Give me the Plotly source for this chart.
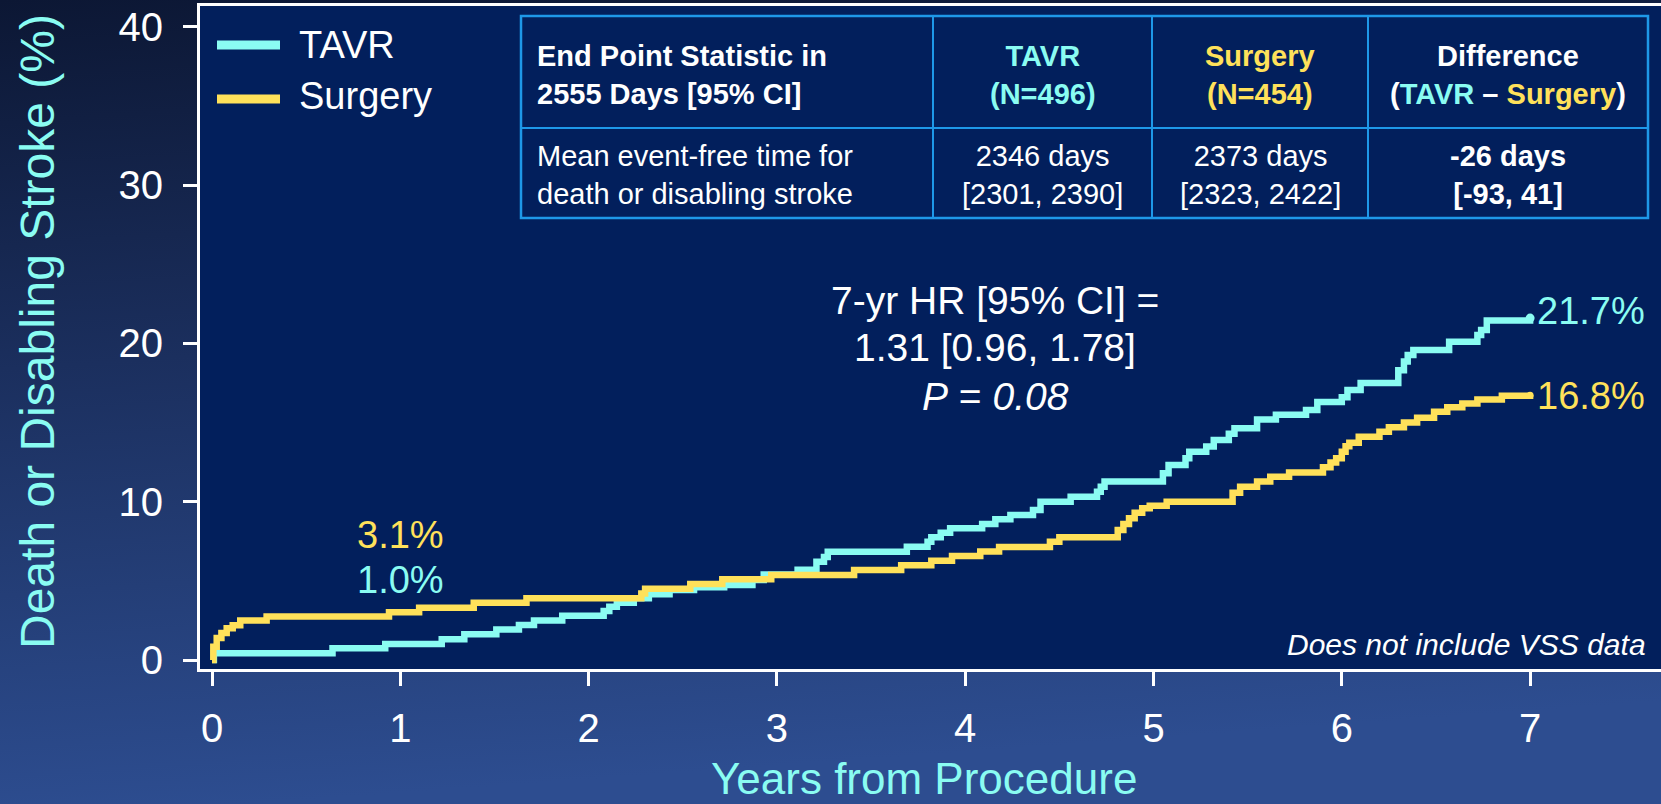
import base64

import plotly.graph_objects as go

# Kaplan-Meier style cumulative incidence (%)
tavr_years = [0, 0.01, 0.64, 0.92, 1.22, 1.34, 1.51, 1.63, 1.71, 1.86, 2.08, 2.11, 2.15,
              2.24, 2.32, 2.43, 2.56, 2.72, 2.87, 2.93, 3.11, 3.21, 3.25, 3.27, 3.69,
              3.80, 3.82, 3.87, 3.92, 4.09, 4.16, 4.24, 4.36, 4.40, 4.56, 4.70, 4.72,
              4.74, 5.05, 5.08, 5.17, 5.19, 5.28, 5.32, 5.40, 5.43, 5.55, 5.65, 5.81,
              5.87, 6.00, 6.03, 6.10, 6.30, 6.33, 6.35, 6.38, 6.57, 6.72, 6.74, 6.77,
              7.0]
tavr_pct = [0, 0.42, 0.74, 1.01, 1.31, 1.62, 1.92, 2.21, 2.50, 2.80, 3.10, 3.37, 3.62,
            3.90, 4.15, 4.42, 4.60, 4.74, 5.05, 5.40, 5.70, 6.20, 6.50, 6.84, 7.16,
            7.47, 7.75, 8.04, 8.32, 8.59, 8.89, 9.16, 9.48, 10.0, 10.32, 10.63, 10.95,
            11.27, 11.79, 12.32, 12.74, 13.16, 13.48, 13.90, 14.30, 14.64, 15.20, 15.50,
            15.80, 16.30, 16.60, 17.06, 17.50, 18.30, 18.85, 19.27, 19.58, 20.10,
            20.53, 20.85, 21.45, 21.60]

surgery_years = [0, 0.007, 0.025, 0.05, 0.078, 0.11, 0.15, 0.29, 0.94, 1.10, 1.39, 1.67,
                 2.28, 2.30, 2.54, 2.71, 2.97, 3.41, 3.66, 3.82, 3.93, 4.08, 4.18, 4.45,
                 4.50, 4.81, 4.84, 4.87, 4.90, 4.94, 4.98, 5.07, 5.42, 5.46, 5.55, 5.62,
                 5.72, 5.90, 5.94, 5.97, 6.00, 6.02, 6.04, 6.09, 6.20, 6.25, 6.33, 6.40,
                 6.49, 6.56, 6.64, 6.72, 6.85, 7.0]
surgery_pct = [0, 0.84, 1.39, 1.70, 2.00, 2.20, 2.50, 2.75, 3.02, 3.30, 3.62, 3.90,
               4.20, 4.50, 4.80, 5.10, 5.37, 5.69, 5.98, 6.27, 6.57, 6.86, 7.14, 7.47,
               7.75, 8.21, 8.59, 8.95, 9.30, 9.58, 9.75, 10.0, 10.57, 10.95, 11.27,
               11.58, 11.84, 12.17, 12.47, 12.74, 13.16, 13.50, 13.73, 14.10, 14.42,
               14.70, 15.00, 15.30, 15.69, 15.96, 16.20, 16.46, 16.70, 16.72]

x_ticks = [0, 1, 2, 3, 4, 5, 6, 7]
y_ticks = [0, 10, 20, 30, 40]

table_header = [
    "<b>End Point Statistic in<br>2555 Days [95% CI]</b>",
    "<b>TAVR<br>(N=496)</b>",
    "<b>Surgery<br>(N=454)</b>",
    "<b>Difference<br>(<span style='color:#8AFCF2'>TAVR</span> – "
    "<span style='color:#FFE15A'>Surgery</span>)</b>",
]
table_row = [
    "Mean event-free time for<br>death or disabling stroke",
    "2346 days<br>[2301, 2390]",
    "2373 days<br>[2323, 2422]",
    "<b>-26 days<br>[-93, 41]</b>",
]

CYAN = "#8AFCF2"
YELLOW = "#FFE15A"
NAVY = "#021F5C"
GRID_BLUE = "#1E98E8"
FONT = "Arial, Liberation Sans, sans-serif"

W, H = 1661, 804
L, R, T, B = 200, 0, 6, 135
PW, PH = W - L - R, H - T - B


def px(x):
    return (x - L) / PW


def py(y):
    return (H - B - y) / PH


# gradient page background as an svg image
svg = (
    f"<svg xmlns='http://www.w3.org/2000/svg' width='{W}' height='{H}' "
    f"viewBox='0 0 {W} {H}' preserveAspectRatio='none'>"
    "<defs><linearGradient id='g' x1='0' y1='0' x2='0.15' y2='1'>"
    "<stop offset='0' stop-color='#0C1734'/>"
    "<stop offset='0.45' stop-color='#1B2F5E'/>"
    "<stop offset='1' stop-color='#2D4D90'/>"
    "</linearGradient></defs>"
    f"<rect width='{W}' height='{H}' fill='url(#g)'/></svg>"
)
bg_src = "data:image/svg+xml;base64," + base64.b64encode(svg.encode()).decode()

fig = go.Figure()

fig.add_trace(go.Scatter(x=tavr_years, y=tavr_pct, mode="lines", line_shape="hv",
                         line=dict(color=CYAN, width=6.5), showlegend=False))
fig.add_trace(go.Scatter(x=surgery_years, y=surgery_pct, mode="lines", line_shape="hv",
                         line=dict(color=YELLOW, width=6.5), showlegend=False))
# rounded end points
fig.add_trace(go.Scatter(x=[tavr_years[-1]], y=[tavr_pct[-1]], mode="markers",
                         marker=dict(color=CYAN, size=9), showlegend=False))
fig.add_trace(go.Scatter(x=[surgery_years[-1]], y=[surgery_pct[-1]], mode="markers",
                         marker=dict(color=YELLOW, size=7), showlegend=False))

shapes = [
    dict(type="rect", xref="paper", yref="paper", x0=0, x1=1, y0=0, y1=1,
         fillcolor=NAVY, line_width=0, layer="below"),
    # legend swatches
    dict(type="line", xref="paper", yref="paper", x0=px(217), x1=px(280),
         y0=py(45), y1=py(45), line=dict(color=CYAN, width=9)),
    dict(type="line", xref="paper", yref="paper", x0=px(217), x1=px(280),
         y0=py(99), y1=py(99), line=dict(color=YELLOW, width=9)),
]

# table grid
tb_left, tb_right, tb_top, tb_bottom, tb_mid = 521, 1648, 16, 218, 128
col_edges = [521, 933, 1152, 1368, 1648]
shapes.append(dict(type="rect", xref="paper", yref="paper", x0=px(tb_left), x1=px(tb_right),
                   y0=py(tb_bottom), y1=py(tb_top), line=dict(color=GRID_BLUE, width=2.5)))
shapes.append(dict(type="line", xref="paper", yref="paper", x0=px(tb_left), x1=px(tb_right),
                   y0=py(tb_mid), y1=py(tb_mid), line=dict(color=GRID_BLUE, width=2)))
for cx in col_edges[1:-1]:
    shapes.append(dict(type="line", xref="paper", yref="paper", x0=px(cx), x1=px(cx),
                       y0=py(tb_bottom), y1=py(tb_top), line=dict(color=GRID_BLUE, width=2)))

annotations = []


def note(text, x, y, size, color="white", xanchor="center", align="center", angle=0):
    annotations.append(dict(text=text, xref="paper", yref="paper", x=px(x), y=py(y),
                            xanchor=xanchor, yanchor="middle", align=align,
                            textangle=angle, showarrow=False,
                            font=dict(family=FONT, size=size, color=color)))


header_colors = ["white", CYAN, YELLOW, "white"]
for i, (head, cell) in enumerate(zip(table_header, table_row)):
    if i == 0:
        note(head, 535, 75, 29, header_colors[i], xanchor="left", align="left")
        note(cell, 535, 175, 29, "white", xanchor="left", align="left")
    else:
        cx = (col_edges[i] + col_edges[i + 1]) / 2
        note(head, cx, 75, 29, header_colors[i])
        note(cell, cx, 175, 29, "white")

# legend labels
note("TAVR", 297, 45, 38, "white", xanchor="left")
note("Surgery", 297, 96, 38, "white", xanchor="left")

# hazard ratio
note("7-yr HR [95% CI] =", 995, 300, 39)
note("1.31 [0.96, 1.78]", 995, 348, 39)
note("<i>P</i> = <i>0.08</i>", 995, 396, 39)

# curve labels
note("21.7%", 1535, 311, 38, CYAN, xanchor="left")
note("16.8%", 1535, 396, 38, YELLOW, xanchor="left")
note("3.1%", 400, 535, 38, YELLOW)
note("1.0%", 400, 580, 38, CYAN)
note("<i>Does not include VSS data</i>", 1648, 644, 30, "white", xanchor="right")

# axis titles
note("Death or Disabling Stroke (%)", 37, 332, 48, CYAN, angle=-90)
note("Years from Procedure", 924, 778, 44, CYAN)

fig.update_layout(
    width=W,
    height=H,
    margin=dict(l=L, r=R, t=T, b=B, pad=0),
    paper_bgcolor="#1B2F5E",
    plot_bgcolor=NAVY,
    font=dict(family=FONT, color="white"),
    shapes=shapes,
    annotations=annotations,
    images=[dict(source=bg_src, xref="paper", yref="paper", x=-L / PW, y=1 + T / PH,
                 sizex=W / PW, sizey=H / PH, xanchor="left", yanchor="top",
                 sizing="stretch", layer="below")],
    showlegend=False,
)
fig.update_xaxes(
    range=[-12 / 188.3, (W - 212) / 188.3],
    tickvals=x_ticks,
    ticks="outside", ticklen=14, tickwidth=3, tickcolor="white",
    showline=True, linewidth=3, linecolor="white", mirror=True,
    showgrid=False, zeroline=False,
    tickfont=dict(family=FONT, size=40, color="white"),
    ticklabelstandoff=8,
)
fig.update_yaxes(
    range=[-9 / 15.83, 654 / 15.83],
    tickvals=y_ticks,
    ticks="outside", ticklen=14, tickwidth=3, tickcolor="white",
    showline=True, linewidth=3, linecolor="white",
    showgrid=False, zeroline=False,
    tickfont=dict(family=FONT, size=40, color="white"),
    ticklabelstandoff=12,
)

fig.write_html("out.html", config={"displayModeBar": False},
               post_script="document.body.style.margin='0px';")
